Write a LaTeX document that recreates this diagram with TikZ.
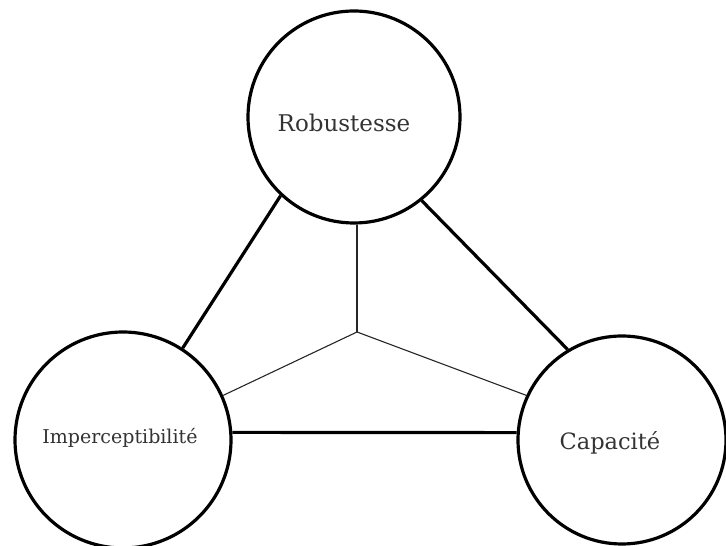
\documentclass[tikz,border=0pt]{standalone}
\usepackage{fontspec}
\setmainfont{DejaVu Serif}
\begin{document}
\begin{tikzpicture}[x=1pt,y=1pt,
  bubble/.style={circle,draw=black,line width=3.2pt,inner sep=0pt},
  thickline/.style={line width=3.2pt},
  thinline/.style={line width=1.1pt,draw=black!85},
  lbl/.style={inner sep=0pt,text=black!80}]
\useasboundingbox (0,0) rectangle (726,546);
\node[bubble,minimum size=212pt] (rob) at (354,429) {};
\node[bubble,minimum size=216pt] (imp) at (123,106) {};
\node[bubble,minimum size=208pt] (cap) at (622,106) {};
\node[lbl,font=\fontsize{23}{27}\selectfont] (trob) at (344,423) {Robustesse};
\node[lbl,font=\fontsize{19}{23}\selectfont] (timp) at (120,108) {Imperceptibilité};
\node[lbl,font=\fontsize{22.5}{27}\selectfont] (tcap) at (610,103) {Capacité};
\coordinate (mid) at (357,214);
\draw[thickline] (rob.227) -- (imp.57);
\draw[thickline] (rob.309) -- (cap.121);
\draw[thickline] (imp.4) -- (cap.176);
\draw[thinline] (mid |- rob.south) -- (mid);
\draw[thinline] (mid) -- (imp.24);
\draw[thinline] (mid) -- (cap.155);
\end{tikzpicture}
\end{document}
